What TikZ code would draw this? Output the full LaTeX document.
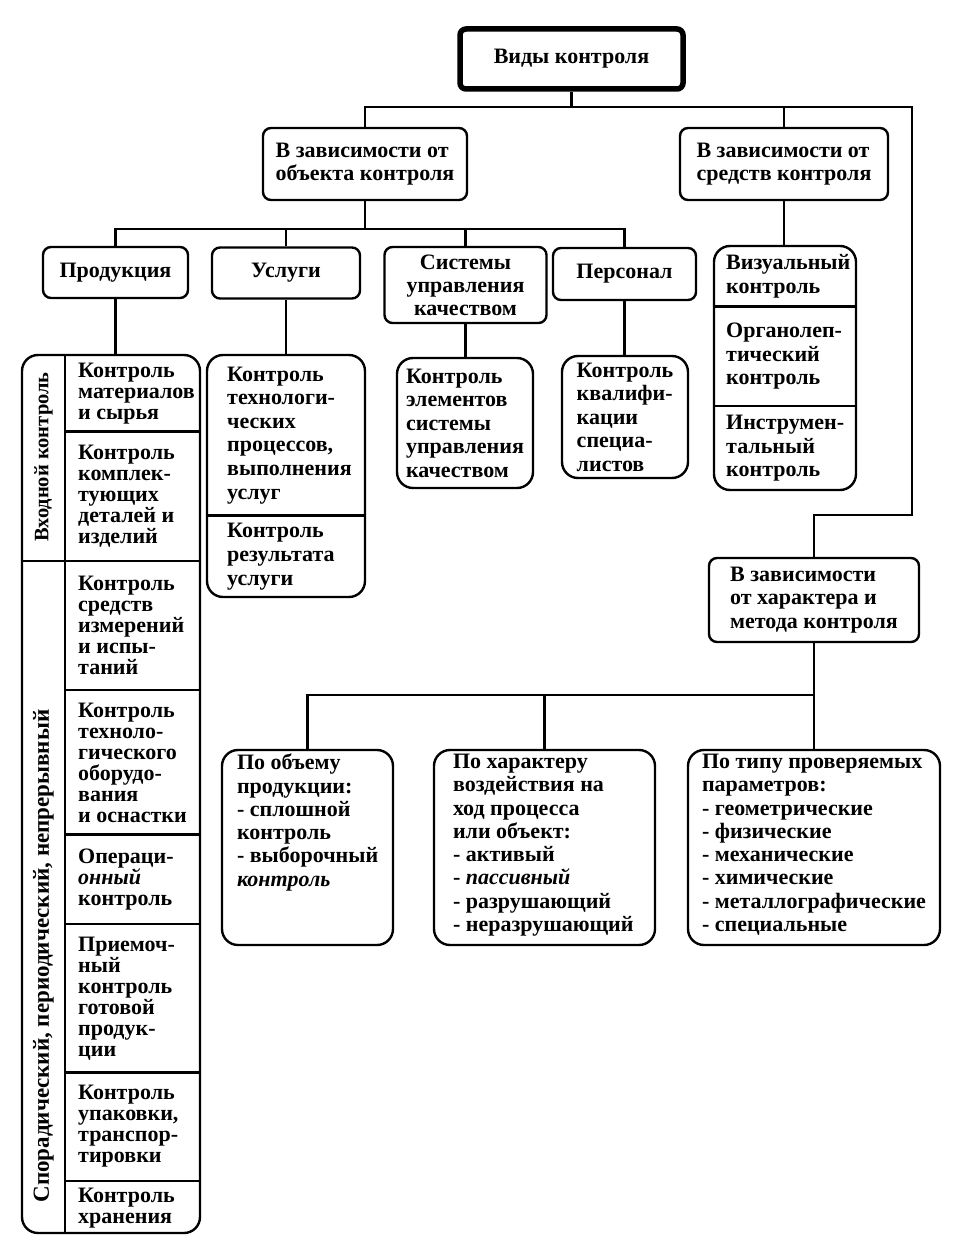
\documentclass[tikz,border=0pt]{standalone}
\usepackage{fontspec}
\setmainfont{Liberation Serif}
\usetikzlibrary{positioning}
\tikzset{
  lnk/.style={line width=2.4pt},
  bx/.style={draw, line width=2.4pt, rounded corners=8pt, inner sep=0pt, align=center,
             font=\bfseries\fontsize{22}{23}\selectfont},
  topbx/.style={bx, line width=5.5pt, rounded corners=6pt},
  frm/.style={draw, line width=2.4pt, rounded corners=16pt, inner sep=0pt, align=left,
              font=\bfseries\fontsize{22}{23.5}\selectfont},
  cel/.style={anchor=north west, inner sep=0pt, align=left,
              font=\bfseries\fontsize{22}{21}\selectfont},
  ucel/.style={cel, font=\bfseries\fontsize{22}{23.6}\selectfont},
  rot/.style={rotate=90, inner sep=0pt, font=\bfseries\fontsize{20.5}{21}\selectfont},
  txt/.style={anchor=north west, inner sep=0pt, align=left,
              font=\bfseries\fontsize{22}{23.3}\selectfont},
}

\begin{document}
\begin{tikzpicture}[x=1pt, y=-1pt]
  \useasboundingbox (0,0) rectangle (969,1260);

  % top levels
  \node[topbx, minimum width=223pt, minimum height=60pt] (vidy) at (571.5,59) {Виды контроля};
  \node[bx, align=left, minimum width=204pt, minimum height=72pt] (obj) at (365,164) {В зависимости от\\объекта контроля};
  \node[bx, align=left, minimum width=208pt, minimum height=72pt] (sred) at (784,164) {В зависимости от\\средств контроля};

  \node[bx, minimum width=145pt, minimum height=51pt] (prod) at (115.5,272.5) {Продукция};
  \node[bx, minimum width=148pt, minimum height=51pt] (usl) at (286,273) {Услуги};
  \node[bx, minimum width=162pt, minimum height=76pt] (sys) at (465.5,285) {Системы\\управления\\качеством};
  \node[bx, minimum width=143pt, minimum height=52pt] (pers) at (624.5,274) {Персонал};

  % left table
  \node[frm, minimum width=178pt, minimum height=878pt] (tab) at (111,794) {};
  \coordinate (col) at (65,355);
  \node[cel, minimum height=76pt] (c1) at (78,355) {Контроль\\материалов\\и сырья};
  \node[cel, minimum height=129pt] (c2) at (c1.south west) {Контроль\\комплек-\\тующих\\деталей и\\изделий};
  \node[cel, minimum height=129pt] (c3) at (c2.south west) {Контроль\\средств\\измерений\\и испы-\\таний};
  \node[cel, minimum height=144pt] (c4) at (c3.south west) {Контроль\\техноло-\\гического\\оборудо-\\вания\\и оснастки};
  \node[cel, minimum height=89pt] (c5) at (c4.south west) {Операци-\\\textit{онный}\\контроль};
  \node[cel, minimum height=148pt] (c6) at (c5.south west) {Приемоч-\\ный\\контроль\\готовой\\продук-\\ции};
  \node[cel, minimum height=108pt] (c7) at (c6.south west) {Контроль\\упаковки,\\транспор-\\тировки};
  \node[cel, minimum height=55pt] (c8) at (c7.south west) {Контроль\\хранения};
  \draw[lnk] (col) -- (col |- tab.south);
  \draw[lnk] (col |- c1.south) -- (tab.east |- c1.south);
  \draw[lnk] (tab.west |- c2.south) -- (tab.east |- c2.south);
  \foreach \c in {c3,c4,c5,c6,c7}
    \draw[lnk] (col |- \c.south) -- (tab.east |- \c.south);
  \node[rot] (vhod) at (43.5,457) {Входной контроль};
  \node[rot, font=\bfseries\fontsize{23}{24}\selectfont] (spor) at (43.5,956) {Спорадический, периодический, непрерывный};

  % services, systems, staff
  \node[frm, minimum width=158pt, minimum height=242pt] (uslc) at (286,476) {};
  \node[ucel, minimum height=160pt] (u1) at (227,355) {Контроль\\технологи-\\ческих\\процессов,\\выполнения\\услуг};
  \node[ucel, minimum height=82pt] (u2) at (u1.south west) {Контроль\\результата\\услуги};
  \draw[lnk] (uslc.west |- u1.south) -- (uslc.east |- u1.south);

  \node[frm, minimum width=136pt, minimum height=130pt] (sysc) at (465,423) {Контроль\\элементов\\системы\\управления\\качеством};
  \node[frm, minimum width=126pt, minimum height=122pt] (persc) at (625,417) {Контроль\\квалифи-\\кации\\специа-\\листов};

  % means of control
  \node[frm, minimum width=142pt, minimum height=244pt] (viz) at (785,368) {};
  \node[ucel, minimum height=60pt] (v1) at (726,246) {Визуальный\\контроль};
  \node[ucel, minimum height=99pt] (v2) at (v1.south west) {Органолеп-\\тический\\контроль};
  \node[ucel, minimum height=85pt] (v3) at (v2.south west) {Инструмен-\\тальный\\контроль};
  \draw[lnk] (viz.west |- v1.south) -- (viz.east |- v1.south);
  \draw[lnk] (viz.west |- v2.south) -- (viz.east |- v2.south);

  % character and method
  \node[frm, rounded corners=8pt, minimum width=210pt, minimum height=84pt] (har) at (814,600) {В зависимости\\от характера и\\метода контроля};
  \node[frm, minimum width=171pt, minimum height=195pt] (poob) at (307.5,847.5) {};
  \node[txt] (poobt) at ([xshift=16pt, yshift=-5pt]poob.north west) {По объему\\продукции:\\- сплошной\\контроль\\- выборочный\\\textit{контроль}};
  \node[frm, minimum width=221pt, minimum height=195pt] (poxar) at (544.5,847.5) {};
  \node[txt] (poxart) at ([xshift=20pt, yshift=-5pt]poxar.north west) {По характеру\\воздействия на\\ход процесса\\или объект:\\- активый\\- \textit{пассивный}\\- разрушающий\\- неразрушающий};
  \node[frm, minimum width=252pt, minimum height=195pt] (potip) at (814,847.5) {};
  \node[txt] (potipt) at ([xshift=15pt, yshift=-5pt]potip.north west) {По типу проверяемых\\параметров:\\- геометрические\\- физические\\- механические\\- химические\\- металлографические\\- специальные};

  % connectors
  \coordinate (r1) at (912,107);
  \coordinate (r2) at (912,515);
  \draw[lnk] (vidy.south) -- (vidy.south |- r1);
  \draw[lnk] (obj.north) |- (r1) -- (r2) -| (har.north);
  \draw[lnk] (sred.north) -- (sred.north |- r1);
  \coordinate (b2) at (0,229);
  \draw[lnk] (obj.south) -- (obj.south |- b2);
  \draw[lnk] (prod.north) |- (pers.north |- b2) -- (pers.north);
  \draw[lnk] (usl.north) -- (usl.north |- b2);
  \draw[lnk] (sys.north) -- (sys.north |- b2);
  \draw[lnk] (prod.south) -- (prod.south |- tab.north);
  \draw[lnk] (usl.south) -- (usl.south |- uslc.north);
  \draw[lnk] (sys.south) -- (sys.south |- sysc.north);
  \draw[lnk] (pers.south) -- (pers.south |- persc.north);
  \draw[lnk] (sred.south) -- (sred.south |- viz.north);
  \coordinate (b3) at (0,695);
  \draw[lnk] (har.south) -- (har.south |- b3);
  \draw[lnk] (poob.north) |- (potip.north |- b3) -- (potip.north);
  \draw[lnk] (poxar.north) -- (poxar.north |- b3);
\end{tikzpicture}
\end{document}
